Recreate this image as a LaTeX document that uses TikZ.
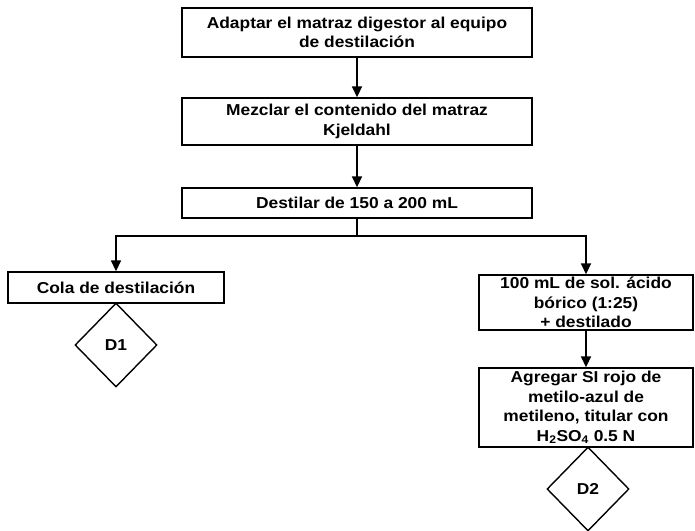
\documentclass[tikz,border=0pt]{standalone}
\usepackage{fontspec}
\setmainfont{Liberation Sans}[FakeStretch=1.1]
\usetikzlibrary{shapes.geometric,arrows.meta}
\begin{document}
\begin{tikzpicture}[x=1pt,y=-1pt,
  box/.style={draw, line width=1.4pt, inner sep=0pt, align=center,
    font=\bfseries\fontsize{15.8}{19.5}\selectfont},
  dia/.style={draw, diamond, line width=1.4pt, inner sep=0pt, aspect=1,
    minimum width=82pt, minimum height=84pt,
    font=\bfseries\fontsize{15.8}{19.5}\selectfont},
  conn/.style={line width=1.7pt},
  arr/.style={line width=1.7pt, -{Triangle[length=11pt,width=10pt]}}
]
\useasboundingbox (0,0) rectangle (695,530);
\node[box, minimum width=350pt, minimum height=49pt] (b1) at (357,32.5)
  {Adaptar el matraz digestor al equipo\\de destilación};
\node[box, minimum width=350pt, minimum height=47pt] (b2) at (357,121.5)
  {Mezclar el contenido del matraz\\Kjeldahl};
\node[box, minimum width=350pt, minimum height=30pt] (b3) at (357,203)
  {Destilar de 150 a 200 mL};
\coordinate (j) at (357,236);
\node[box, minimum width=216pt, minimum height=31pt] (cola) at (116,287.5)
  {Cola de destilación};
\node[dia] (d1) at (116,345) {D1};
\node[box, minimum width=214pt, minimum height=55pt] (r1) at (586,302.5)
  {100 mL de sol. ácido\\bórico (1:25)\\+ destilado};
\node[box, minimum width=214pt, minimum height=79pt] (r2) at (586,407.5)
  {Agregar SI rojo de\\metilo-azul de\\metileno, titular con\\H\textsubscript{2}SO\textsubscript{4} 0.5 N};
\node[dia] (d2) at (588,489) {D2};
\draw[arr] (b1) -- (b2);
\draw[arr] (b2) -- (b3);
\draw[conn] (b3) -- (j);
\draw[arr] (j) -| (cola);
\draw[arr] (j) -| (r1);
\draw[arr] (r1) -- (r2);
\end{tikzpicture}
\end{document}
